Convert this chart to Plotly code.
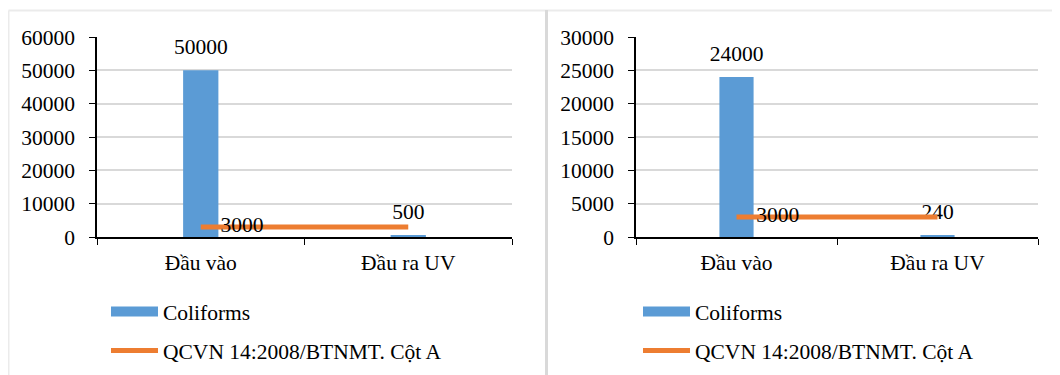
import plotly.graph_objects as go

# ---- data ----
categories = ["Đầu vào", "Đầu ra UV"]
coliforms_left = [50000, 500]
coliforms_right = [24000, 240]
qcvn_left = [3000, 3000]
qcvn_right = [3000, 3000]
qcvn_labels = ["3000", ""]
bar_name = "Coliforms"
line_name = "QCVN 14:2008/BTNMT. Cột A"

BLUE = "#5b9bd5"
ORANGE = "#ed7d31"
FONT = "Liberation Serif, Times New Roman, serif"
FS = 21.5
# the page adds an 8px body margin; reference pixel coords are converted accordingly
OFF = 8
W, H = 1060 - OFF, 375 - OFF


def px(rx):
    return (rx - OFF) / W


def py(ry):
    return 1 - (ry - OFF) / H


fig = go.Figure()


def add_panel(xa, ya, legend, bars, line):
    fig.add_trace(go.Bar(x=categories, y=bars, width=0.17, marker=dict(color=BLUE, line=dict(width=0)),
                         xaxis=xa, yaxis=ya, showlegend=False, name=bar_name))
    # bar value labels
    fig.add_trace(go.Scatter(x=categories, y=bars, mode="markers+text", text=[str(v) for v in bars],
                             textposition="top center", marker=dict(size=16, opacity=0),
                             textfont=dict(family=FONT, size=FS, color="black"), cliponaxis=False,
                             xaxis=xa, yaxis=ya, showlegend=False, hoverinfo="skip"))
    fig.add_trace(go.Scatter(x=categories, y=line, mode="lines", line=dict(color=ORANGE, width=5),
                             xaxis=xa, yaxis=ya, showlegend=False, name=line_name))
    fig.add_trace(go.Scatter(x=categories, y=line, mode="markers+text", text=qcvn_labels,
                             textposition="middle right", marker=dict(size=30, opacity=0),
                             textfont=dict(family=FONT, size=FS, color="black"), cliponaxis=False,
                             xaxis=xa, yaxis=ya, showlegend=False, hoverinfo="skip"))
    # legend entries
    fig.add_trace(go.Scatter(x=[None], y=[None], mode="lines", line=dict(color=BLUE, width=10),
                             name=bar_name, legend=legend, legendgroup=legend + "a",
                             xaxis=xa, yaxis=ya))
    fig.add_trace(go.Scatter(x=[None], y=[None], mode="lines", line=dict(color=ORANGE, width=5),
                             name=line_name, legend=legend, legendgroup=legend + "b",
                             xaxis=xa, yaxis=ya))


add_panel("x", "y", "legend", coliforms_left, qcvn_left)
add_panel("x2", "y2", "legend2", coliforms_right, qcvn_right)

ydom = [py(237), py(37)]
xcommon = dict(type="category", range=[-0.5, 1.5], tickson="boundaries", ticks="outside", ticklen=6,
               tickcolor="black", showline=True, linecolor="black", linewidth=1.5, showgrid=False,
               tickfont=dict(family=FONT, size=FS, color="black"), ticklabelstandoff=5, fixedrange=True)
ycommon = dict(ticks="outside", ticklen=6, tickcolor="black", showline=True, linecolor="black",
               linewidth=1.5, showgrid=True, gridcolor="#d9d9d9", gridwidth=1.5, zeroline=False,
               tickformat="d",
               tickfont=dict(family=FONT, size=FS, color="black"), ticklabelstandoff=10, fixedrange=True)

legcommon = dict(font=dict(family=FONT, size=FS, color="black"), orientation="v", traceorder="grouped",
                 tracegroupgap=8, bgcolor="rgba(0,0,0,0)", xanchor="left", yanchor="top", itemwidth=47)

fig.update_layout(
    width=W, height=H, margin=dict(l=0, r=0, t=0, b=0, autoexpand=False),
    paper_bgcolor="white", plot_bgcolor="white",
    barmode="overlay",
    xaxis=dict(domain=[px(97), px(512)], anchor="y", **xcommon),
    yaxis=dict(domain=ydom, anchor="x", range=[0, 60000], dtick=10000, **ycommon),
    xaxis2=dict(domain=[px(636), px(1038)], anchor="y2", **xcommon),
    yaxis2=dict(domain=ydom, anchor="x2", range=[0, 30000], dtick=5000, **ycommon),
    legend=dict(x=px(106), y=py(291), **legcommon),
    legend2=dict(x=px(638), y=py(291), **legcommon),
    shapes=[
        dict(type="line", xref="paper", yref="paper", x0=px(8.5), x1=1, y0=py(10.5), y1=py(10.5),
             line=dict(color="#ebebeb", width=2)),
        dict(type="line", xref="paper", yref="paper", x0=px(8.5), x1=px(8.5), y0=0, y1=py(10.5),
             line=dict(color="#ebebeb", width=2)),
        dict(type="line", xref="paper", yref="paper", x0=px(546.5), x1=px(546.5), y0=0, y1=py(10),
             line=dict(color="#d9d9d9", width=3)),
    ],
)

fig.write_html("out.html")
